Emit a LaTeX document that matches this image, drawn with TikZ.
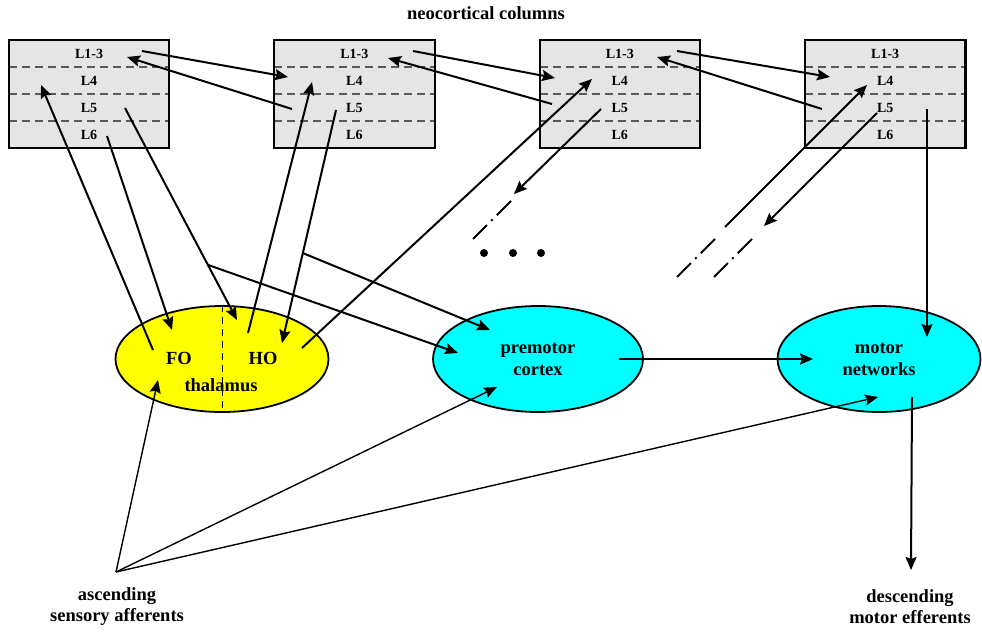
\documentclass[tikz,border=0pt]{standalone}
\usepackage{fontspec}
\setmainfont{Liberation Serif}
\usetikzlibrary{positioning, arrows.meta, shapes.geometric, calc}
\definecolor{thalfill}{RGB}{255,255,0}
\definecolor{areafill}{RGB}{0,255,255}
\tikzset{
  layer/.style={
    rectangle,
    fill=gray!20,
    minimum width=160pt,
    minimum height=26.5pt,
    inner sep=0pt,
    font=\bfseries\fontsize{14}{15}\selectfont
  },
  sep/.style={
    draw=black!65,
    line width=2pt,
    dash pattern=on 8pt off 5pt
  },
  colbox/.style={
    draw,
    line width=2.2pt
  },
  area/.style={
    ellipse,
    draw,
    line width=1.8pt,
    minimum width=212pt,
    minimum height=106pt,
    align=center,
    font=\bfseries\fontsize{18.5}{22}\selectfont
  },
  tag/.style={
    align=center,
    font=\bfseries\fontsize{18.5}{21}\selectfont
  },
  conn/.style={
    line width=2pt,
    -{Stealth[length=13pt, width=11pt, inset=2pt]}
  },
  gap/.style={
    line width=2pt,
    dash pattern=on 20pt off 6pt on 2pt off 6pt
  },
  dot/.style={
    circle,
    fill,
    inner sep=0pt,
    minimum size=8pt
  }
}

\begin{document}
\begin{tikzpicture}[x=1pt, y=-1pt]
    \useasboundingbox (0,0) rectangle (982,632);

    \node[tag] (title) at (486,13) {neocortical columns};

    % column 1
    \node[layer] (c1a) at (89,53.75) {L1-3};
    \node[layer, below=0pt of c1a] (c1b) {L4};
    \node[layer, below=0pt of c1b] (c1c) {L5};
    \node[layer, below=0pt of c1c] (c1d) {L6};
    \draw[sep] (c1a.south west) -- (c1a.south east);
    \draw[sep] (c1b.south west) -- (c1b.south east);
    \draw[sep] (c1c.south west) -- (c1c.south east);
    \draw[colbox] (c1a.north west) rectangle (c1d.south east);

    % column 2
    \node[layer, right=105pt of c1a] (c2a) {L1-3};
    \node[layer, below=0pt of c2a] (c2b) {L4};
    \node[layer, below=0pt of c2b] (c2c) {L5};
    \node[layer, below=0pt of c2c] (c2d) {L6};
    \draw[sep] (c2a.south west) -- (c2a.south east);
    \draw[sep] (c2b.south west) -- (c2b.south east);
    \draw[sep] (c2c.south west) -- (c2c.south east);
    \draw[colbox] (c2a.north west) rectangle (c2d.south east);

    % column 3
    \node[layer, right=105pt of c2a] (c3a) {L1-3};
    \node[layer, below=0pt of c3a] (c3b) {L4};
    \node[layer, below=0pt of c3b] (c3c) {L5};
    \node[layer, below=0pt of c3c] (c3d) {L6};
    \draw[sep] (c3a.south west) -- (c3a.south east);
    \draw[sep] (c3b.south west) -- (c3b.south east);
    \draw[sep] (c3c.south west) -- (c3c.south east);
    \draw[colbox] (c3a.north west) rectangle (c3d.south east);

    % column 4
    \node[layer, right=105pt of c3a] (c4a) {L1-3};
    \node[layer, below=0pt of c4a] (c4b) {L4};
    \node[layer, below=0pt of c4b] (c4c) {L5};
    \node[layer, below=0pt of c4c] (c4d) {L6};
    \draw[sep] (c4a.south west) -- (c4a.south east);
    \draw[sep] (c4b.south west) -- (c4b.south east);
    \draw[sep] (c4c.south west) -- (c4c.south east);
    \draw[colbox] (c4a.north west) rectangle (c4d.south east);

    % subcortical areas
    \node[area, fill=thalfill, minimum width=213pt] (thal) at (222,359) {};
    \draw[line width=1pt, dash pattern=on 7pt off 5pt] (thal.north) -- (thal.south);
    \node[tag] (fo) at (179,358) {FO};
    \node[tag] (ho) at (263,358) {HO};
    \node[tag] (thalname) at (221,385) {thalamus};
    \node[area, fill=areafill, minimum width=210pt] (premotor) at (538,359) {premotor\\cortex};
    \node[area, fill=areafill, minimum width=203pt] (motor) at (879,359) {motor\\networks};

    \node[tag] (asc) at (117,607) {ascending\\sensory afferents};
    \node[tag] (desc) at (910,607) {descending\\motor efferents};

    \node[dot] (d1) at (484,253) {};
    \node[dot] (d2) at (513,253) {};
    \node[dot] (d3) at (541,253) {};

    % end points
    \coordinate (c1-fwd) at (142,51);   \coordinate (c2-fwdin) at (288,77);
    \coordinate (c2-back) at (292,109); \coordinate (c1-backin) at (127,57);
    \coordinate (c2-fwd) at (413,51);   \coordinate (c3-fwdin) at (555,78);
    \coordinate (c3-back) at (552,104); \coordinate (c2-backin) at (388,58);
    \coordinate (c3-fwd) at (677,51);   \coordinate (c4-fwdin) at (830,77);
    \coordinate (c4-back) at (822,109); \coordinate (c3-backin) at (657,57);
    \coordinate (fo-up) at (153,350);   \coordinate (c1-l4) at (41,85);
    \coordinate (c1-l6) at (107,136);   \coordinate (fo-in) at (172,330);
    \coordinate (c1-l5) at (125,108);   \coordinate (ho-in1) at (237,320);
    \coordinate (ho-up) at (248,333);   \coordinate (c2-l4) at (312,82);
    \coordinate (c2-l5) at (336,110);   \coordinate (ho-in2) at (282,343);
    \coordinate (ho-far) at (302,348);  \coordinate (c3-l4) at (592,79);
    \coordinate (pm-in1) at (458,353);  \coordinate (pm-in2) at (490,330);
    \coordinate (c3-l5) at (601,109);   \coordinate (off1) at (514,194);
    \coordinate (off1a) at (511,201);   \coordinate (off1b) at (473,239);
    \coordinate (c4-l4) at (867,85);    \coordinate (off2) at (725,227);
    \coordinate (off2a) at (715,239);   \coordinate (off2b) at (677,277);
    \coordinate (c4-l5) at (877,113);   \coordinate (off3) at (764,226);
    \coordinate (off3a) at (752,239);   \coordinate (off3b) at (714,277);
    \coordinate (c4-out) at (927,109);  \coordinate (mn-in1) at (927,337);
    \coordinate (pm-out) at (619,359);  \coordinate (mn-in2) at (813,359);
    \coordinate (aff) at (116,572);
    \coordinate (fo-in2) at (158,380);  \coordinate (pm-in3) at (497,387);
    \coordinate (mn-in3) at (878,397);
    \coordinate (mn-out) at (912,397);  \coordinate (eff) at (911,570);

    % cortico-cortical
    \draw[conn] (c1-fwd) -- (c2-fwdin);
    \draw[conn] (c2-back) -- (c1-backin);
    \draw[conn] (c2-fwd) -- (c3-fwdin);
    \draw[conn] (c3-back) -- (c2-backin);
    \draw[conn] (c3-fwd) -- (c4-fwdin);
    \draw[conn] (c4-back) -- (c3-backin);

    % thalamo-cortical
    \draw[conn] (fo-up) -- (c1-l4);
    \draw[conn] (c1-l6) -- (fo-in);
    \draw[conn] (c1-l5) -- (ho-in1);
    \draw[conn] ($(c1-l5)!0.74!(ho-in1)$) -- (pm-in1);
    \draw[conn] (ho-up) -- (c2-l4);
    \draw[conn] (c2-l5) -- (ho-in2);
    \draw[conn] ($(c2-l5)!0.614!(ho-in2)$) -- (pm-in2);
    \draw[conn] (ho-far) -- (c3-l4);

    % further columns
    \draw[conn] (c3-l5) -- (off1);
    \draw[gap] (off1a) -- (off1b);
    \draw[conn] (off2) -- (c4-l4);
    \draw[gap] (off2a) -- (off2b);
    \draw[conn] (c4-l5) -- (off3);
    \draw[gap] (off3a) -- (off3b);

    % motor output
    \draw[conn] (c4-out) -- (mn-in1);
    \draw[conn] (pm-out) -- (mn-in2);
    \draw[conn] (mn-out) -- (eff);

    % sensory input
    \draw[conn, line width=1.4pt] (aff) -- (fo-in2);
    \draw[conn, line width=1.4pt] (aff) -- (pm-in3);
    \draw[conn, line width=1.4pt] (aff) -- (mn-in3);
\end{tikzpicture}
\end{document}
